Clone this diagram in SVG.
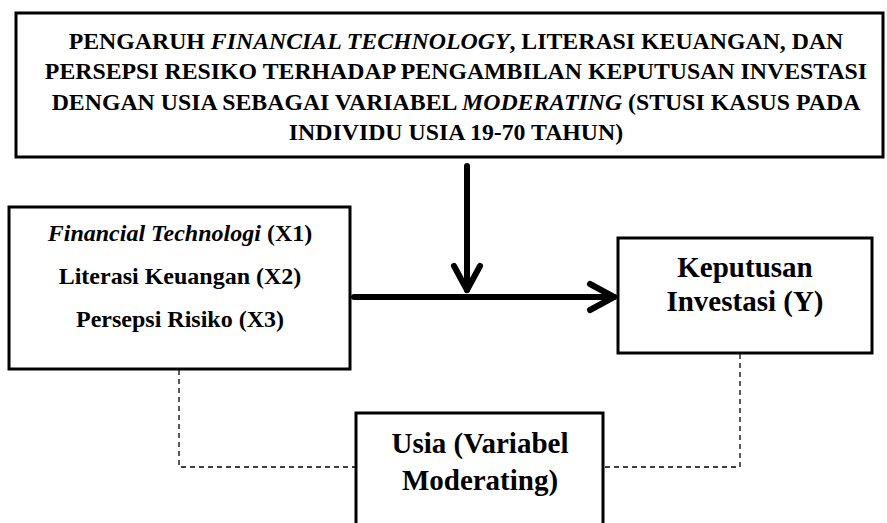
<svg xmlns="http://www.w3.org/2000/svg" width="887" height="523" viewBox="0 0 887 523">
<style>
.box{fill:#fff;stroke:#000;stroke-width:3}
.t{font-family:"Liberation Serif","Times New Roman",serif;font-weight:bold;fill:#000;text-anchor:middle}
.i{font-style:italic}
.thick{stroke:#000;stroke-width:6;stroke-linecap:round;fill:none}
.dash{stroke:#000;stroke-width:1.3;stroke-dasharray:5 4;fill:none}
</style>
<defs>
<marker id="chev" markerUnits="userSpaceOnUse" markerWidth="40" markerHeight="40" viewBox="-30 -20 40 40" refX="0" refY="0" orient="auto" overflow="visible">
<path d="M -24 -13 L 0 0 L -24 13" fill="none" stroke="#000" stroke-width="6" stroke-linecap="round" stroke-linejoin="round"/>
</marker>
</defs>
<rect width="887" height="523" fill="#fff"/>
<g id="connectors">
<path class="dash" d="M 179 370 V 467 H 356"/>
<path class="dash" d="M 740 354 V 467 H 603"/>
<path class="thick" d="M 354 297 L 614 297" marker-end="url(#chev)"/>
<path class="thick" d="M 467 166 L 467 290" marker-end="url(#chev)"/>
</g>
<g id="title">
<rect class="box" x="16" y="13" width="867" height="144"/>
<text class="t" font-size="23.8" x="456" y="48.5">PENGARUH <tspan class="i">FINANCIAL TECHNOLOGY</tspan>, LITERASI KEUANGAN, DAN</text>
<text class="t" font-size="23.8" x="456" y="79">PERSEPSI RESIKO TERHADAP PENGAMBILAN KEPUTUSAN INVESTASI</text>
<text class="t" font-size="23.8" x="456" y="109.5">DENGAN USIA SEBAGAI VARIABEL <tspan class="i">MODERATING</tspan> (STUSI KASUS PADA</text>
<text class="t" font-size="23.8" x="456" y="140">INDIVIDU USIA 19-70 TAHUN)</text>
</g>
<g id="independent">
<rect class="box" x="9" y="207" width="341" height="162"/>
<text class="t" font-size="24" x="180" y="241"><tspan class="i">Financial Technologi</tspan> (X1)</text>
<text class="t" font-size="24" x="180" y="284">Literasi Keuangan (X2)</text>
<text class="t" font-size="24" x="180" y="327">Persepsi Risiko (X3)</text>
</g>
<g id="dependent">
<rect class="box" x="618" y="238" width="254" height="115"/>
<text class="t" font-size="29" x="745" y="277">Keputusan</text>
<text class="t" font-size="29" x="745" y="311">Investasi (Y)</text>
</g>
<g id="moderating">
<rect class="box" x="356" y="413" width="247" height="120"/>
<text class="t" font-size="29" x="480" y="453">Usia (Variabel</text>
<text class="t" font-size="29" x="480" y="490">Moderating)</text>
</g>
</svg>
